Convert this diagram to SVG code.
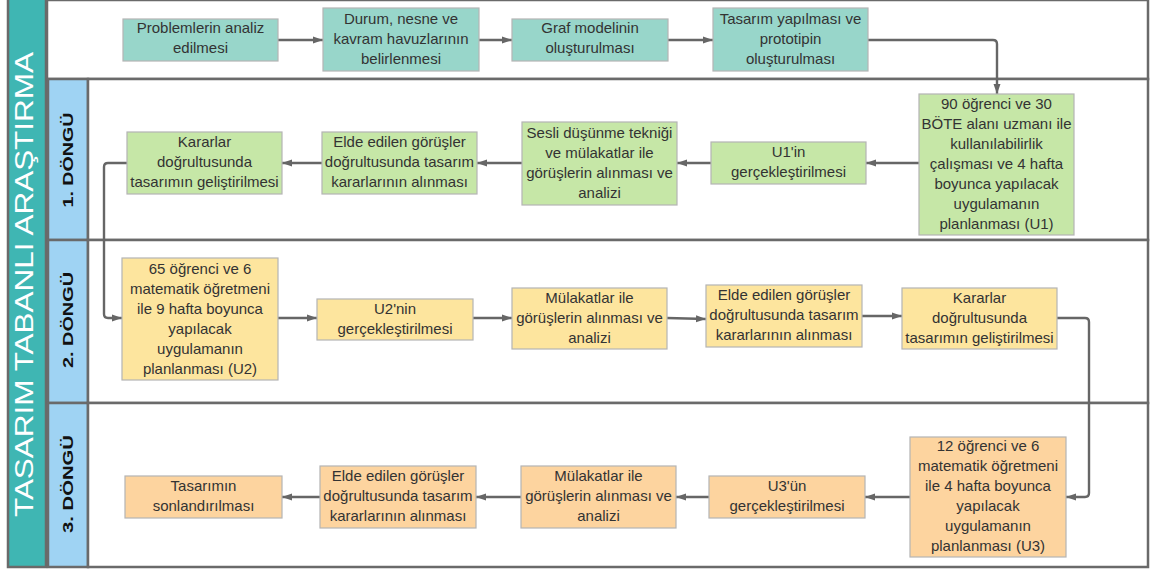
<svg xmlns="http://www.w3.org/2000/svg" width="1152" height="571" viewBox="0 0 1152 571">
<defs>
<style>
.lane{fill:#ffffff;stroke:#6a6a6a;stroke-width:2.5}
.hdr{fill:#9fd3f3;stroke:#6a6a6a;stroke-width:2.5}
.band{fill:#3fb6b3;stroke:#6a6a6a;stroke-width:2.5}
.nd{stroke:#b4b4b4;stroke-width:1.2}
.teal{fill:#98d6ca}
.green{fill:#c6e7a7}
.yellow{fill:#fde59e}
.orange{fill:#fdd49f}
.t{font-family:"Liberation Sans",Arial,sans-serif;font-size:15px;fill:#333333;text-anchor:middle}
.lbl{font-family:"Liberation Sans",Arial,sans-serif;font-size:15px;font-weight:bold;fill:#111111;text-anchor:middle}
.title{font-family:"Liberation Sans",Arial,sans-serif;font-size:25px;fill:#ffffff;text-anchor:middle}
.c{fill:none;stroke:#666666;stroke-width:2.4}
</style>
<marker id="ah" markerUnits="userSpaceOnUse" markerWidth="11" markerHeight="9" refX="10" refY="4.5" orient="auto">
<path d="M0,1 L10,4.5 L0,8 z" fill="#666666"/>
</marker>
</defs>

<g id="frame">
<rect class="band" x="8" y="-3" width="38" height="570"/>
<rect class="lane" x="47" y="0" width="1101" height="79"/>
<rect class="hdr" x="48" y="79" width="40" height="161"/>
<rect class="hdr" x="48" y="240" width="40" height="163"/>
<rect class="hdr" x="48" y="403" width="40" height="164"/>
<rect class="lane" x="88" y="79" width="1060" height="161"/>
<rect class="lane" x="88" y="240" width="1060" height="163"/>
<rect class="lane" x="88" y="403" width="1060" height="164"/>
<text class="title" transform="translate(33,284.5) rotate(-90)" textLength="465" lengthAdjust="spacingAndGlyphs">TASARIM TABANLI ARAŞTIRMA</text>
<text class="lbl" transform="translate(73,160) rotate(-90)" textLength="95" lengthAdjust="spacingAndGlyphs">1. DÖNGÜ</text>
<text class="lbl" transform="translate(73,320) rotate(-90)" textLength="96" lengthAdjust="spacingAndGlyphs">2. DÖNGÜ</text>
<text class="lbl" transform="translate(73,484) rotate(-90)" textLength="98" lengthAdjust="spacingAndGlyphs">3. DÖNGÜ</text>
</g>

<g id="connectors">
<path class="c" marker-end="url(#ah)" d="M278,40 H323"/>
<path class="c" marker-end="url(#ah)" d="M479,40 H512"/>
<path class="c" marker-end="url(#ah)" d="M668,40 H713"/>
<path class="c" marker-end="url(#ah)" d="M868,40 H993 Q997,40 997,44 V94"/>
<path class="c" marker-end="url(#ah)" d="M919,163 H866"/>
<path class="c" marker-end="url(#ah)" d="M711,163 H677"/>
<path class="c" marker-end="url(#ah)" d="M522,163 H477"/>
<path class="c" marker-end="url(#ah)" d="M322,163 H282"/>
<path class="c" marker-end="url(#ah)" d="M127,163 H108 Q104,163 104,167 V314 Q104,318 108,318 H122"/>
<path class="c" marker-end="url(#ah)" d="M278,318 H317"/>
<path class="c" marker-end="url(#ah)" d="M473,318 H512"/>
<path class="c" marker-end="url(#ah)" d="M667,318 L706,319"/>
<path class="c" marker-end="url(#ah)" d="M862,316 H902"/>
<path class="c" marker-end="url(#ah)" d="M1057,318 H1085 Q1089,318 1089,322 V493 Q1089,497 1085,497 H1066"/>
<path class="c" marker-end="url(#ah)" d="M910,497 H865"/>
<path class="c" marker-end="url(#ah)" d="M709,497 H676"/>
<path class="c" marker-end="url(#ah)" d="M521,497 H476"/>
<path class="c" marker-end="url(#ah)" d="M320,497 H282"/>
</g>

<g id="n1"><rect class="nd teal" x="123" y="19" width="155" height="42"/>
<text class="t" y="33"><tspan x="200.5">Problemlerin analiz</tspan><tspan x="200.5" dy="20">edilmesi</tspan></text></g>
<g id="n2"><rect class="nd teal" x="323" y="8" width="156" height="63"/>
<text class="t" y="23.5"><tspan x="401">Durum, nesne ve</tspan><tspan x="401" dy="20">kavram havuzlarının</tspan><tspan x="401" dy="20">belirlenmesi</tspan></text></g>
<g id="n3"><rect class="nd teal" x="512" y="19" width="156" height="42"/>
<text class="t" y="33"><tspan x="590">Graf modelinin</tspan><tspan x="590" dy="20">oluşturulması</tspan></text></g>
<g id="n4"><rect class="nd teal" x="713" y="8" width="155" height="63"/>
<text class="t" y="23.5"><tspan x="790.5">Tasarım yapılması ve</tspan><tspan x="790.5" dy="20">prototipin</tspan><tspan x="790.5" dy="20">oluşturulması</tspan></text></g>

<g id="n5"><rect class="nd green" x="919" y="94" width="155" height="141"/>
<text class="t" y="108.5"><tspan x="996.5">90 öğrenci ve 30</tspan><tspan x="996.5" dy="20">BÖTE alanı uzmanı ile</tspan><tspan x="996.5" dy="20">kullanılabilirlik</tspan><tspan x="996.5" dy="20">çalışması ve 4 hafta</tspan><tspan x="996.5" dy="20">boyunca yapılacak</tspan><tspan x="996.5" dy="20">uygulamanın</tspan><tspan x="996.5" dy="20">planlanması (U1)</tspan></text></g>
<g id="n6"><rect class="nd green" x="711" y="142" width="155" height="42"/>
<text class="t" y="157"><tspan x="788.5">U1'in</tspan><tspan x="788.5" dy="20">gerçekleştirilmesi</tspan></text></g>
<g id="n7"><rect class="nd green" x="522" y="122" width="155" height="83"/>
<text class="t" y="137.5"><tspan x="599.5">Sesli düşünme tekniği</tspan><tspan x="599.5" dy="20">ve mülakatlar ile</tspan><tspan x="599.5" dy="20">görüşlerin alınması ve</tspan><tspan x="599.5" dy="20">analizi</tspan></text></g>
<g id="n8"><rect class="nd green" x="322" y="132" width="155" height="62"/>
<text class="t" y="147"><tspan x="399.5">Elde edilen görüşler</tspan><tspan x="399.5" dy="20">doğrultusunda tasarım</tspan><tspan x="399.5" dy="20">kararlarının alınması</tspan></text></g>
<g id="n9"><rect class="nd green" x="127" y="132" width="155" height="62"/>
<text class="t" y="147"><tspan x="204.5">Kararlar</tspan><tspan x="204.5" dy="20">doğrultusunda</tspan><tspan x="204.5" dy="20">tasarımın geliştirilmesi</tspan></text></g>

<g id="n10"><rect class="nd yellow" x="122" y="258" width="156" height="122"/>
<text class="t" y="273.5"><tspan x="200">65 öğrenci ve 6</tspan><tspan x="200" dy="20">matematik öğretmeni</tspan><tspan x="200" dy="20">ile 9 hafta boyunca</tspan><tspan x="200" dy="20">yapılacak</tspan><tspan x="200" dy="20">uygulamanın</tspan><tspan x="200" dy="20">planlanması (U2)</tspan></text></g>
<g id="n11"><rect class="nd yellow" x="317" y="299" width="156" height="41"/>
<text class="t" y="313.5"><tspan x="395">U2'nin</tspan><tspan x="395" dy="20">gerçekleştirilmesi</tspan></text></g>
<g id="n12"><rect class="nd yellow" x="512" y="288" width="155" height="61"/>
<text class="t" y="302.5"><tspan x="589.5">Mülakatlar ile</tspan><tspan x="589.5" dy="20">görüşlerin alınması ve</tspan><tspan x="589.5" dy="20">analizi</tspan></text></g>
<g id="n13"><rect class="nd yellow" x="706" y="285" width="156" height="62"/>
<text class="t" y="300"><tspan x="784">Elde edilen görüşler</tspan><tspan x="784" dy="20">doğrultusunda tasarım</tspan><tspan x="784" dy="20">kararlarının alınması</tspan></text></g>
<g id="n14"><rect class="nd yellow" x="902" y="288" width="155" height="61"/>
<text class="t" y="302.5"><tspan x="979.5">Kararlar</tspan><tspan x="979.5" dy="20">doğrultusunda</tspan><tspan x="979.5" dy="20">tasarımın geliştirilmesi</tspan></text></g>

<g id="n15"><rect class="nd orange" x="910" y="437" width="156" height="120"/>
<text class="t" y="451"><tspan x="988">12 öğrenci ve 6</tspan><tspan x="988" dy="20">matematik öğretmeni</tspan><tspan x="988" dy="20">ile 4 hafta boyunca</tspan><tspan x="988" dy="20">yapılacak</tspan><tspan x="988" dy="20">uygulamanın</tspan><tspan x="988" dy="20">planlanması (U3)</tspan></text></g>
<g id="n16"><rect class="nd orange" x="709" y="476" width="156" height="42"/>
<text class="t" y="491"><tspan x="787">U3'ün</tspan><tspan x="787" dy="20">gerçekleştirilmesi</tspan></text></g>
<g id="n17"><rect class="nd orange" x="521" y="466" width="155" height="62"/>
<text class="t" y="481"><tspan x="598.5">Mülakatlar ile</tspan><tspan x="598.5" dy="20">görüşlerin alınması ve</tspan><tspan x="598.5" dy="20">analizi</tspan></text></g>
<g id="n18"><rect class="nd orange" x="320" y="466" width="156" height="62"/>
<text class="t" y="481"><tspan x="398">Elde edilen görüşler</tspan><tspan x="398" dy="20">doğrultusunda tasarım</tspan><tspan x="398" dy="20">kararlarının alınması</tspan></text></g>
<g id="n19"><rect class="nd orange" x="125" y="476" width="157" height="42"/>
<text class="t" y="491"><tspan x="203.5">Tasarımın</tspan><tspan x="203.5" dy="20">sonlandırılması</tspan></text></g>
</svg>
